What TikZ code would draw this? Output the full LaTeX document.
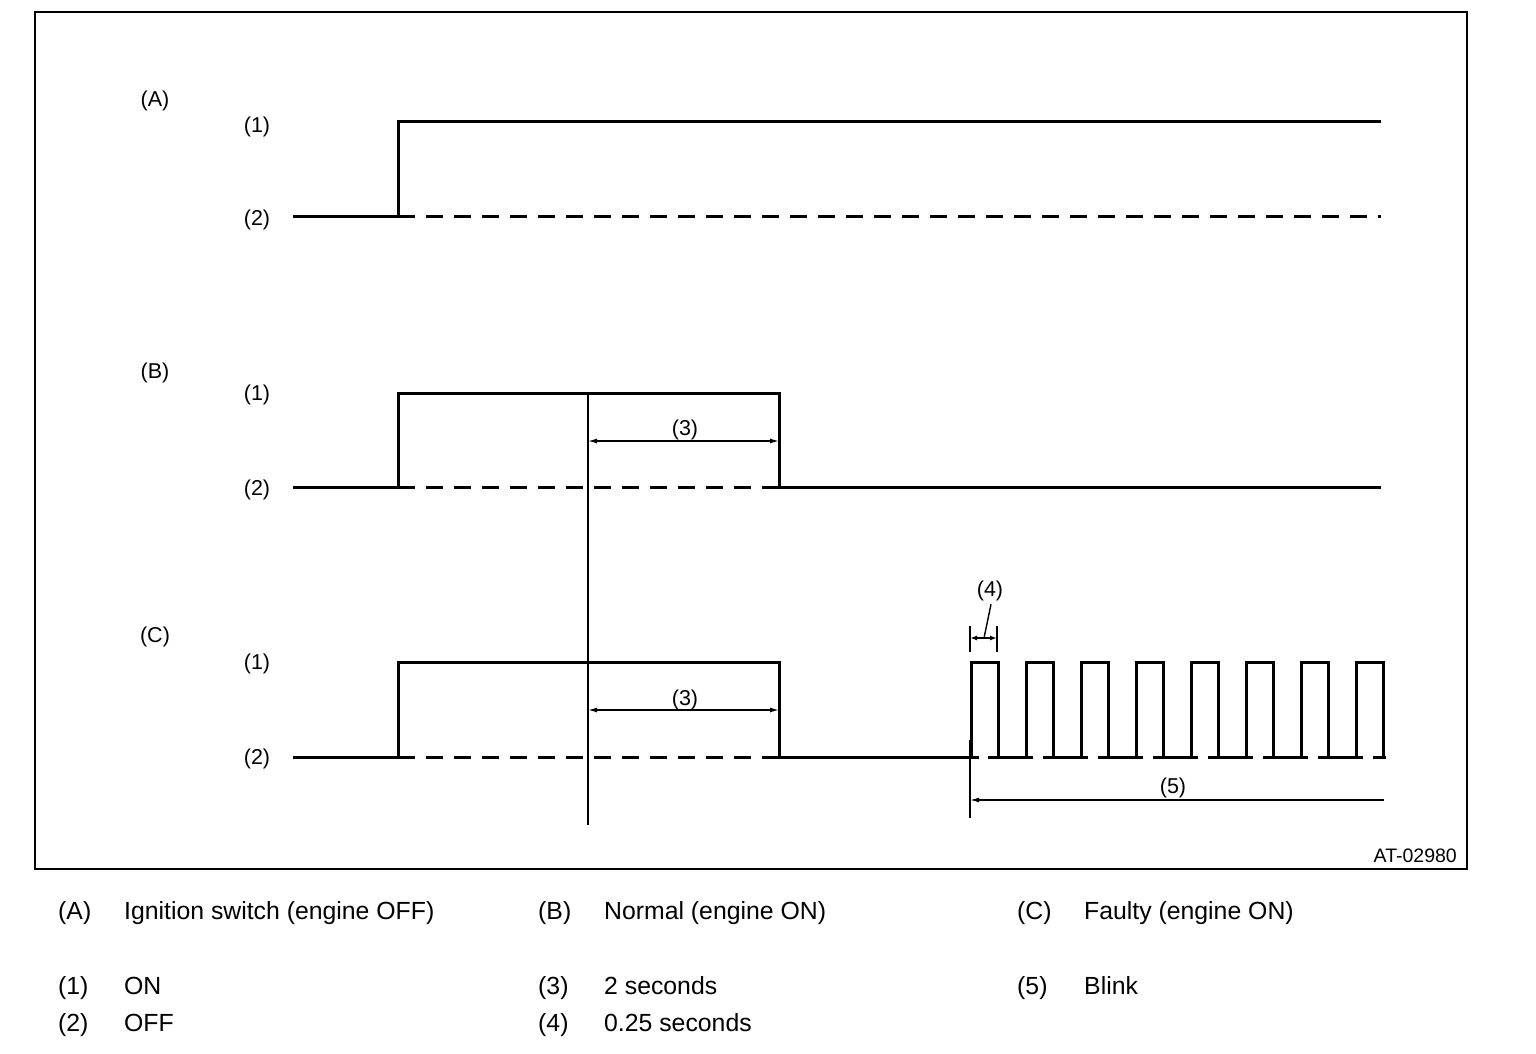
\documentclass[tikz,border=0pt]{standalone}
\usepackage{fontspec}
\setmainfont{Liberation Sans}
\usetikzlibrary{arrows.meta}

\begin{document}
\begin{tikzpicture}[x=1pt,y=-1pt,
	every node/.style={font=\fontsize{21.5}{24}\selectfont, inner sep=0pt},
	sig/.style={line width=3pt},
	offlvl/.style={line width=3pt, dash pattern=on 17pt off 11pt},
	thinline/.style={line width=1.4pt},
	dimline/.style={line width=1.4pt, {Latex[length=9pt,width=5pt]}-{Latex[length=9pt,width=5pt]}},
	legend/.style={font=\fontsize{24.8}{28}\selectfont, anchor=base west}]
	\useasboundingbox (0,0) rectangle (1536,1054);
	\draw[line width=2pt] (35,12) rectangle (1467,869);
	% (A) ignition switch
	\node (lA) at (155,101) {(A)};
	\node (lA1) at (257,127) {(1)};
	\node (lA2) at (257,220) {(2)};
	\draw[sig] (293,216) -- (398,216) -- (398,122) -- (1381,122);
	\draw[offlvl] (398,216) -- (1381,216);
	% (B) normal
	\node (lB) at (155,373) {(B)};
	\node (lB1) at (257,395) {(1)};
	\node (lB2) at (257,490) {(2)};
	\draw[sig] (293,487) -- (398,487) -- (398,393) -- (779,393) -- (779,487) -- (1381,487);
	\draw[offlvl] (398,487) -- (779,487);
	% (C) faulty
	\node (lC) at (155,637) {(C)};
	\node (lC1) at (257,664) {(1)};
	\node (lC2) at (257,759) {(2)};
	\draw[sig] (293,757) -- (398,757) -- (398,662) -- (779,662) -- (779,757) -- (979,757);
	\draw[offlvl] (398,757) -- (779,757);
	\draw[line width=3pt, dash pattern=on 45pt off 10pt] (988,757) -- (1386,757);
	\foreach \i in {0,...,7}
		\draw[sig] (971+55*\i,757) -- (971+55*\i,662) -- (998+55*\i,662) -- (998+55*\i,757);
	% 2 seconds
	\draw[thinline] (588,393) -- (588,825);
	\draw[dimline] (588,441) -- (779,441);
	\node (t3b) at (685,430) {(3)};
	\draw[dimline] (588,710) -- (779,710);
	\node (t3c) at (685,700) {(3)};
	% 0.25 seconds
	\draw[thinline] (970,626) -- (970,652);
	\draw[thinline] (997,626) -- (997,652);
	\draw[line width=1.4pt, {Latex[length=7pt,width=5pt]}-{Latex[length=7pt,width=5pt]}] (970,638) -- (997,638);
	\node (t4) at (990,591) {(4)};
	\draw[thinline] (t4.south) ++(1,3) -- (984,638);
	% blink
	\draw[thinline] (970,740) -- (970,818);
	\draw[line width=1.4pt, {Latex[length=9pt,width=5pt]}-] (970,800) -- (1384,800);
	\node (t5) at (1173,788) {(5)};
	\node[font=\fontsize{19.5}{22}\selectfont, anchor=east] (code) at (1457,856) {AT-02980};
	% legend
	\node[legend] (kA) at (58,919) {(A)};
	\node[legend] (kAt) at (124,919) {Ignition switch (engine OFF)};
	\node[legend] (kB) at (538,919) {(B)};
	\node[legend] (kBt) at (604,919) {Normal (engine ON)};
	\node[legend] (kC) at (1017,919) {(C)};
	\node[legend] (kCt) at (1084,919) {Faulty (engine ON)};
	\node[legend] (k1) at (58,994) {(1)};
	\node[legend] (k1t) at (124,994) {ON};
	\node[legend] (k3) at (538,994) {(3)};
	\node[legend] (k3t) at (604,994) {2 seconds};
	\node[legend] (k5) at (1017,994) {(5)};
	\node[legend] (k5t) at (1084,994) {Blink};
	\node[legend] (k2) at (58,1031) {(2)};
	\node[legend] (k2t) at (124,1031) {OFF};
	\node[legend] (k4) at (538,1031) {(4)};
	\node[legend] (k4t) at (604,1031) {0.25 seconds};
\end{tikzpicture}
\end{document}
